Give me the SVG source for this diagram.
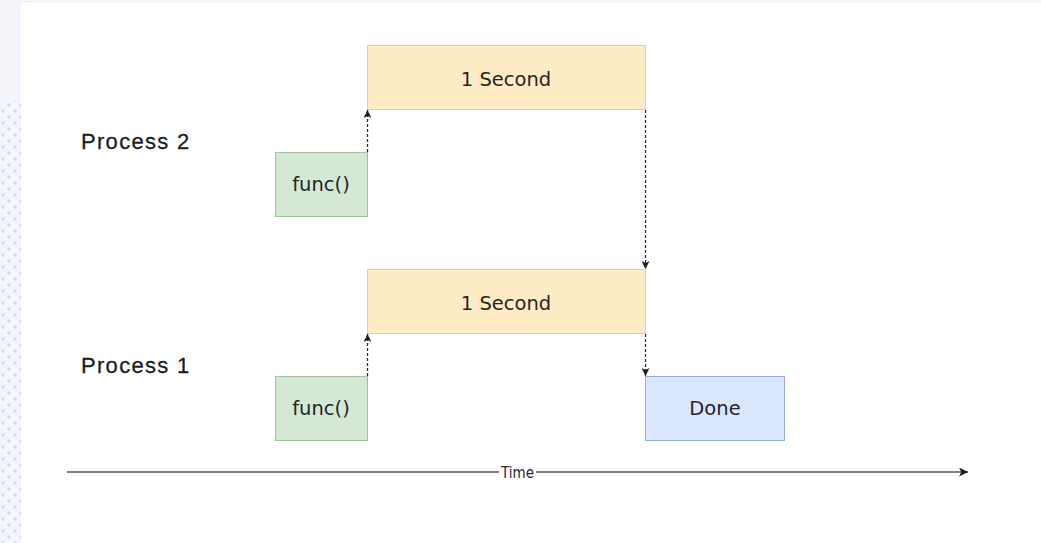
<svg xmlns="http://www.w3.org/2000/svg" width="1041" height="543" viewBox="0 0 1041 543">
  <defs>
    <style>
      .lbl { font-family: "DejaVu Sans", sans-serif; font-size: 19.5px; fill: #262626; text-anchor: middle; }
      .proc { font-family: "Liberation Sans", Arial, sans-serif; font-size: 22px; fill: #1e1e1e; letter-spacing: 1.3px; stroke: #1e1e1e; stroke-width: 0.3px; }
      .yellow { fill: #fdecc6; stroke: #e6cf95; stroke-width: 1; }
      .green { fill: #d5e8d4; stroke: #9cc49a; stroke-width: 1; }
      .blue { fill: #d9e6fb; stroke: #93aed6; stroke-width: 1; }
      .dash { fill: none; stroke: #2a2a2a; stroke-width: 1.3; stroke-dasharray: 3 2; }
      .axis { fill: none; stroke: #555555; stroke-width: 1.4; }
    </style>
    <marker id="arr" viewBox="0 0 10 10" refX="10" refY="5" markerWidth="8" markerHeight="8" markerUnits="userSpaceOnUse" orient="auto">
      <path d="M0,0 L10,5 L0,10 L2.5,5 Z" fill="#1e1e1e"/>
    </marker>
    <marker id="arrT" viewBox="0 0 10 10" refX="10" refY="5" markerWidth="9" markerHeight="9" markerUnits="userSpaceOnUse" orient="auto">
      <path d="M0,0 L10,5 L0,10 L2.5,5 Z" fill="#1e1e1e"/>
    </marker>
    <pattern id="dots" x="0" y="0" width="12" height="12" patternUnits="userSpaceOnUse">
      <circle cx="3" cy="3" r="1.7" fill="#d6d9e7"/>
      <circle cx="9" cy="9" r="1.7" fill="#d6d9e7"/>
    </pattern>
  </defs>

  <!-- background -->
  <rect x="0" y="0" width="1041" height="543" fill="#f4f5fa"/>
  <rect x="0" y="100" width="21" height="443" fill="url(#dots)"/>
  <rect x="21" y="3" width="1020" height="540" fill="#ffffff"/>

  <!-- labels -->
  <g id="label-process2"><text class="proc" x="81" y="149">Process 2</text></g>
  <g id="label-process1"><text class="proc" x="81" y="373">Process 1</text></g>

  <!-- nodes -->
  <g id="p2-second">
    <rect class="yellow" x="367.5" y="45.5" width="278" height="64"/>
    <text class="lbl" x="506" y="86">1 Second</text>
  </g>
  <g id="p2-func">
    <rect class="green" x="275.5" y="152.5" width="92" height="64"/>
    <text class="lbl" x="321" y="191">func()</text>
  </g>
  <g id="p1-second">
    <rect class="yellow" x="367.5" y="269.5" width="278" height="64"/>
    <text class="lbl" x="506" y="310">1 Second</text>
  </g>
  <g id="p1-func">
    <rect class="green" x="275.5" y="376.5" width="92" height="64"/>
    <text class="lbl" x="321" y="415">func()</text>
  </g>
  <g id="done">
    <rect class="blue" x="645.5" y="376.5" width="139" height="64"/>
    <text class="lbl" x="715" y="415">Done</text>
  </g>

  <!-- connectors -->
  <g id="connectors">
    <path class="dash" d="M367.5,152 L367.5,110" marker-end="url(#arr)"/>
    <path class="dash" d="M645.5,110 L645.5,269" marker-end="url(#arr)"/>
    <path class="dash" d="M367.5,376 L367.5,334" marker-end="url(#arr)"/>
    <path class="dash" d="M645.5,334 L645.5,376" marker-end="url(#arr)"/>
    <path class="axis" d="M67,472 L499,472"/>
    <path class="axis" d="M536,472 L968,472" marker-end="url(#arrT)"/>
    <text x="517.5" y="478" font-family="'DejaVu Sans Condensed', 'Liberation Sans Narrow', sans-serif" font-stretch="condensed" font-size="15" fill="#2a2a2a" text-anchor="middle">Time</text>
  </g>
</svg>
